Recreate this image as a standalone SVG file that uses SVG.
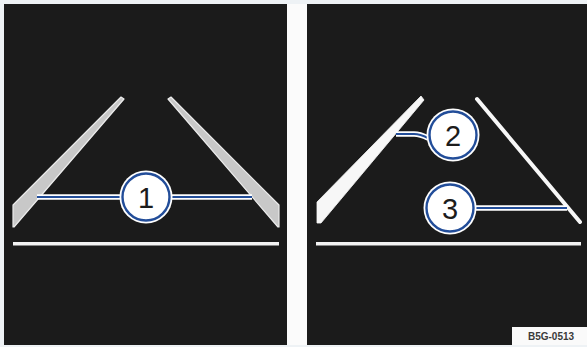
<svg xmlns="http://www.w3.org/2000/svg" width="587" height="347" viewBox="0 0 587 347">
<style>
.wedge{fill:#c8c8c8;stroke:#ececec;stroke-width:1.2;stroke-linejoin:round}
.solid{fill:#f7f7f7;stroke:#f7f7f7;stroke-width:0.8;stroke-linejoin:round}
.base{fill:#f2f2f2}
.halo{fill:#ffffff}
.ring{fill:#ffffff;stroke:#224d99;stroke-width:2.4}
.num{font-family:"Liberation Sans",Arial,sans-serif;font-size:29px;fill:#1c1c1c;text-anchor:middle}
.lw{stroke:#ffffff;stroke-width:5.5;fill:none;stroke-linecap:butt}
.lb{stroke:#224d99;stroke-width:2;fill:none;stroke-linecap:butt}
</style>
<rect x="0" y="0" width="587" height="347" fill="#eef2f5"/>
<rect x="4" y="4" width="583" height="341" fill="#1b1b1b"/>
<rect x="287" y="4" width="20" height="341" fill="#fbfbfb"/>
<g id="left-panel">
<polygon class="wedge" points="121,97 124,99 14,227 13,227 13,205"/>
<polygon class="wedge" points="171,97 168,99 278,227 279,227 279,205"/>
<rect class="base" x="13" y="242" width="266" height="3.5"/>
</g>
<g id="right-panel">
<polygon class="solid" points="421,96 424,100 321,223 317,223 317,202"/>
<line x1="477" y1="99" x2="580" y2="222" stroke="#f7f7f7" stroke-width="4" stroke-linecap="round"/>
<rect class="base" x="316" y="242" width="265" height="3.5"/>
</g>
<g id="connectors">
<line class="lw" x1="37" y1="197" x2="121" y2="197"/>
<line class="lb" x1="37" y1="197" x2="121" y2="197"/>
<line class="lw" x1="171" y1="197" x2="252" y2="197"/>
<line class="lb" x1="171" y1="197" x2="252" y2="197"/>
<path class="lw" d="M396,134 H414 Q420,134 428,138"/>
<path class="lb" d="M396,134 H414 Q420,134 428,138"/>
<line class="lw" x1="475" y1="208" x2="567" y2="208"/>
<line class="lb" x1="475" y1="208" x2="567" y2="208"/>
</g>
<g id="callout-1">
<circle class="halo" cx="146" cy="197" r="26.5"/>
<circle class="ring" cx="146" cy="197" r="23.5"/>
<text class="num" x="146" y="207.5">1</text>
</g>
<g id="callout-2">
<circle class="halo" cx="453" cy="135" r="26.5"/>
<circle class="ring" cx="453" cy="135" r="23.5"/>
<text class="num" x="453" y="145.5">2</text>
</g>
<g id="callout-3">
<circle class="halo" cx="450" cy="208" r="26.5"/>
<circle class="ring" cx="450" cy="208" r="23.5"/>
<text class="num" x="450" y="218.5">3</text>
</g>
<g id="code-label">
<rect x="512" y="327" width="75" height="18" fill="#fafafa"/>
<text x="551" y="340" font-family="Liberation Sans,Arial,sans-serif" font-size="10" font-weight="bold" fill="#3a3a3a" text-anchor="middle">B5G-0513</text>
</g>
</svg>
